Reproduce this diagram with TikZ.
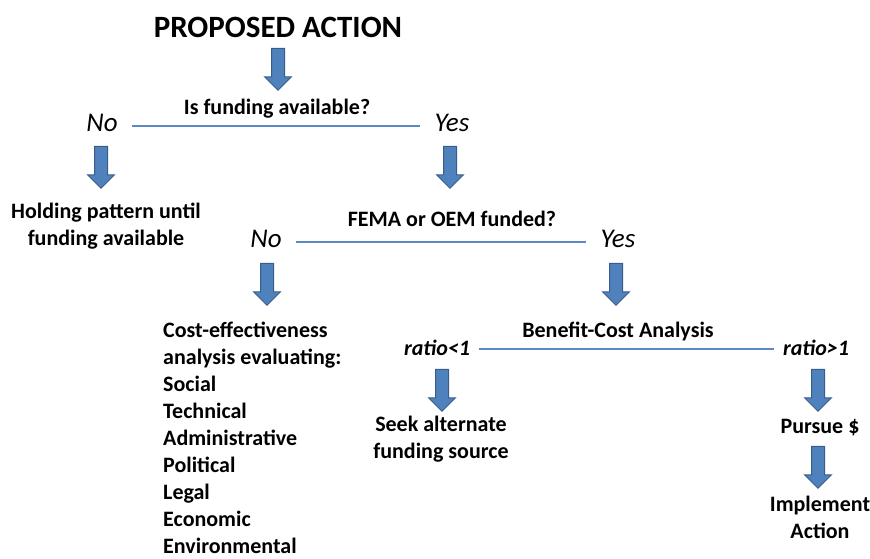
\documentclass[tikz,border=0pt]{standalone}
\usepackage{fontspec}
\setmainfont{Carlito}
\usetikzlibrary{shapes.arrows}
\definecolor{ArrowClr}{RGB}{79,129,189}
\definecolor{ArrowEdgeClr}{RGB}{56,93,138}
\definecolor{BranchClr}{RGB}{90,138,196}

\begin{document}
\begin{tikzpicture}[x=1pt,y=-1pt,
  title/.style={font=\fontsize{31}{36}\selectfont\bfseries,inner sep=0pt,anchor=base},
  txt/.style={font=\fontsize{22}{26.5}\selectfont\bfseries,inner sep=0pt,anchor=base,align=center},
  answer/.style={font=\fontsize{27}{32}\selectfont\itshape,text height=18pt,text depth=8pt,inner xsep=14pt,inner ysep=0pt,anchor=base},
  ratio/.style={font=\fontsize{22}{27}\selectfont\bfseries\itshape,text height=14pt,text depth=2pt,inner xsep=9pt,inner ysep=0pt,anchor=base},
  down/.style={single arrow,rotate=-90,draw=ArrowEdgeClr,fill=ArrowClr,line width=1pt,minimum height=42pt,minimum width=26pt,single arrow head extend=7pt,inner xsep=0pt,inner ysep=6pt},
  branch/.style={draw=BranchClr,line width=1.2pt}]
\useasboundingbox (0,0) rectangle (870,558);

% first question
\node[title] (action) at (278,37) {PROPOSED ACTION};
\node[txt] (q1) at (277,114) {Is funding available?};
\node[answer] (no1) at (102,131) {No};
\node[answer] (yes1) at (452,131) {Yes};
\draw[branch] (no1) -- (yes1);
\node[txt] (hold) at (106,245) {Holding pattern until\\funding available};

% second question
\node[txt] (q2) at (452,226) {FEMA or OEM funded?};
\node[answer] (no2) at (266,247) {No};
\node[answer] (yes2) at (618,247) {Yes};
\draw[branch] (no2) -- (yes2);
\node[txt,align=left,anchor=base west,font=\fontsize{22}{27}\selectfont\bfseries] (cea) at (163,553)
  {Cost-effectiveness\\analysis evaluating:\\Social\\Technical\\Administrative\\Political\\Legal\\Economic\\Environmental};

% benefit-cost
\node[txt] (q3) at (618,337) {Benefit-Cost Analysis};
\node[ratio] (low) at (437,355) {ratio<1};
\node[ratio] (high) at (816,355) {ratio>1};
\draw[branch] (low) -- (high);
\node[txt] (seek) at (441,458) {Seek alternate\\funding source};
\node[txt] (pursue) at (820,433) {Pursue \$};
\node[txt] (impl) at (820,538) {Implement\\Action};

% block arrows
\foreach \n/\x/\y in {a1/278/66,a2/101/164,a3/450/164,a4/267/281,a5/616/281,a6/442/387,a7/818/387,a8/818/464}
  \node[down] (\n) at (\x,\y) {};

\end{tikzpicture}
\end{document}
